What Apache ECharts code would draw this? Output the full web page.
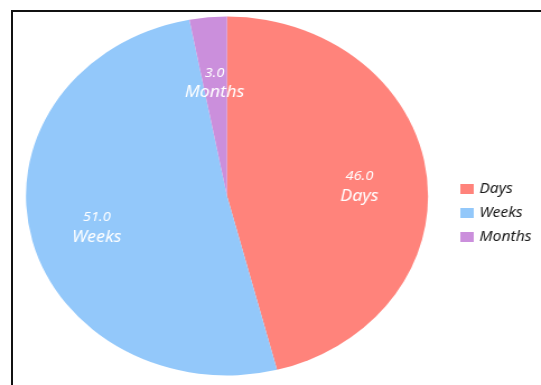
<!DOCTYPE html>
<html>
<head>
<meta charset="utf-8">
<script src="https://cdn.jsdelivr.net/npm/echarts@6/dist/echarts.min.js"></script>
<style>
  html, body { margin: 0; padding: 0; background: #fff; overflow: hidden; }
  #wrap { position: relative; width: 541px; height: 385px; overflow: hidden; background: #fff; }
  #frame { position: absolute; left: 11px; top: 10px; width: 600px; height: 420px;
           border-left: 2px solid #111; border-top: 2px solid #111; box-sizing: border-box; }
  /* the chart is drawn slightly wider than tall */
  #chart { position: absolute; left: 0; top: 0; width: 483px; height: 385px;
           transform: scaleX(1.12); transform-origin: 0 0; }
</style>
</head>
<body>
<div id="wrap">
  <div id="frame"></div>
  <div id="chart"></div>
</div>
<script>
// Time units and how often each was chosen
const categories = ['Days', 'Weeks', 'Months'];
const values = [46, 51, 3];
const colors = ['#FF837B', '#93C8FA', '#CB8FDC'];

const FONT = '"Noto Sans", sans-serif';
const seriesData = categories.map((name, i) => ({ name, value: values[i] }));

const chart = echarts.init(document.getElementById('chart'), null, { renderer: 'canvas' });

const center = [202.7, 196];
const R = 179.5;

chart.setOption({
  animation: false,
  color: colors,
  legend: {
    data: categories,
    orient: 'vertical',
    left: 406,
    top: 177,
    itemWidth: 12,
    itemHeight: 10,
    itemGap: 10,
    icon: 'rect',
    textStyle: { fontFamily: FONT, fontStyle: 'italic', fontSize: 14, color: '#1a1a1a', lineHeight: 14 }
  },
  series: [
    {
      type: 'pie',
      center: center,
      radius: [0, R],
      startAngle: 90,
      clockwise: true,
      data: seriesData,
      label: { show: false },
      labelLine: { show: false },
      itemStyle: { borderWidth: 0 },
      emphasis: { disabled: true }
    },
    {
      // label carrier: places the value/name text further out than the slice midpoint
      type: 'pie',
      center: center,
      radius: [0, R * 1.294],
      startAngle: 90,
      clockwise: true,
      silent: true,
      data: seriesData,
      itemStyle: { color: 'rgba(0,0,0,0)', borderWidth: 0 },
      labelLine: { show: false },
      emphasis: { disabled: true },
      label: {
        show: true,
        position: 'inside',
        offset: [0, 6],
        formatter: p => '{v|' + p.value.toFixed(1) + '}\n{n|' + p.name + '}',
        rich: {
          v: { fontFamily: FONT, fontStyle: 'italic', fontSize: 13, color: '#fff', lineHeight: 19, align: 'center' },
          n: { fontFamily: FONT, fontStyle: 'italic', fontSize: 16, color: '#fff', lineHeight: 21, align: 'center' }
        }
      }
    }
  ]
});
</script>
</body>
</html>
